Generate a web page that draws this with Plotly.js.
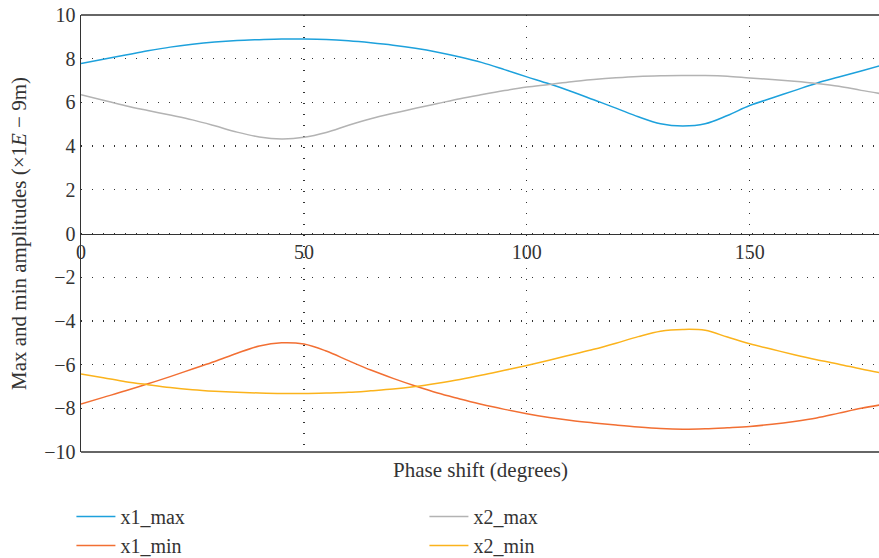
<!DOCTYPE html>
<html>
<head>
<meta charset="utf-8">
<script src="https://cdn.plot.ly/plotly-3.0.1.min.js"></script>
<style>html,body{margin:0;padding:0;background:#fff;}#chart{width:879px;height:558px;}</style>
</head>
<body>
<div id="chart"></div>
<script>
const phase = [0,5,10,15,20,25,30,35,40,45,50,55,60,65,70,75,80,85,90,95,100,105,110,115,120,125,130,135,140,145,150,155,160,165,170,175,180];
const x1_max = [7.78,7.98,8.17,8.36,8.53,8.66,8.76,8.83,8.87,8.9,8.9,8.88,8.82,8.73,8.62,8.48,8.3,8.08,7.82,7.5,7.17,6.85,6.5,6.12,5.74,5.34,5.02,4.92,5.02,5.4,5.86,6.2,6.54,6.88,7.16,7.44,7.72];
const x2_max = [6.35,6.1,5.85,5.63,5.42,5.2,4.93,4.64,4.42,4.33,4.4,4.62,4.95,5.25,5.5,5.73,5.95,6.17,6.36,6.54,6.7,6.82,6.95,7.05,7.13,7.19,7.22,7.23,7.23,7.2,7.12,7.05,6.97,6.87,6.74,6.55,6.38];
const x1_min = [-7.8,-7.5,-7.2,-6.88,-6.55,-6.2,-5.86,-5.48,-5.15,-5.0,-5.06,-5.38,-5.82,-6.25,-6.63,-6.98,-7.3,-7.57,-7.83,-8.05,-8.25,-8.42,-8.56,-8.67,-8.77,-8.86,-8.93,-8.96,-8.94,-8.89,-8.83,-8.73,-8.6,-8.44,-8.22,-8.0,-7.82];
const x2_min = [-6.43,-6.6,-6.78,-6.92,-7.05,-7.15,-7.22,-7.27,-7.3,-7.32,-7.32,-7.3,-7.27,-7.2,-7.12,-7.0,-6.85,-6.68,-6.48,-6.26,-6.04,-5.8,-5.55,-5.3,-5.02,-4.72,-4.47,-4.39,-4.43,-4.74,-5.05,-5.3,-5.55,-5.78,-5.98,-6.2,-6.4];
const xTicks = [0,50,100,150];
const yTicks = [-10,-8,-6,-4,-2,0,2,4,6,8,10];

const FONT = 'Liberation Serif';
const FS = 20;
const mk = (y, name, color) => ({x: phase, y: y, name: name, type: 'scatter', mode: 'lines',
  line: {color: color, width: 1.5, shape: 'spline', smoothing: 1}});
const data = [
  mk(x1_max, 'x1_max', '#1da1dc'),
  mk(x2_max, 'x2_max', '#b3b3b3'),
  mk(x1_min, 'x1_min', '#f26f33'),
  mk(x2_min, 'x2_min', '#fbb31c')
];
const dot = '1px,10px';
const border = {type: 'line', xref: 'paper', yref: 'paper', line: {color: '#333', width: 1.5}, layer: 'above'};
const layout = {
  width: 879, height: 558,
  margin: {l: 81, r: 0, t: 15, b: 106, autoexpand: false},
  paper_bgcolor: '#fff', plot_bgcolor: '#fff',
  font: {family: FONT, size: FS, color: '#333'},
  showlegend: true,
  legend: {orientation: 'h', x: -0.012, xanchor: 'left', y: -0.103, yanchor: 'top',
    entrywidthmode: 'pixels', entrywidth: 299, itemwidth: 39, tracegroupgap: 0,
    font: {family: FONT, size: 20, color: '#333'}},
  xaxis: {range: [0, 179], anchor: 'free', position: 0.5,
    tickvals: xTicks, ticktext: xTicks.map(String), ticks: '',
    showline: true, linecolor: '#333', linewidth: 1.5,
    showgrid: true, gridcolor: '#333', gridwidth: 1.3, griddash: dot,
    zeroline: false, tickfont: {family: FONT, size: FS, color: '#333'}},
  yaxis: {range: [-10, 10], tickvals: yTicks, ticktext: yTicks.map(v => v < 0 ? '\u2212' + Math.abs(v) : String(v)),
    ticks: '', showline: true, linecolor: '#333', linewidth: 1.5,
    showgrid: true, gridcolor: '#333', gridwidth: 1.3, griddash: dot, zeroline: false,
    tickfont: {family: FONT, size: FS, color: '#333'},
    title: {text: 'Max and min amplitudes (\u00d71<i>E</i> \u2212 9m)', standoff: 12,
      font: {family: FONT, size: 21, color: '#333'}}},
  shapes: [
    Object.assign({x0: 0, x1: 1, y0: 1, y1: 1}, border),
    Object.assign({x0: 0, x1: 1, y0: 0, y1: 0}, border)
  ],
  annotations: [
    {text: 'Phase shift (degrees)', xref: 'paper', yref: 'paper', x: 0.5, y: 0, yshift: -4,
     xanchor: 'center', yanchor: 'top', showarrow: false, font: {family: FONT, size: 21, color: '#333'}}
  ]
};
Plotly.newPlot('chart', data, layout, {displayModeBar: false, staticPlot: true});
</script>
</body>
</html>
